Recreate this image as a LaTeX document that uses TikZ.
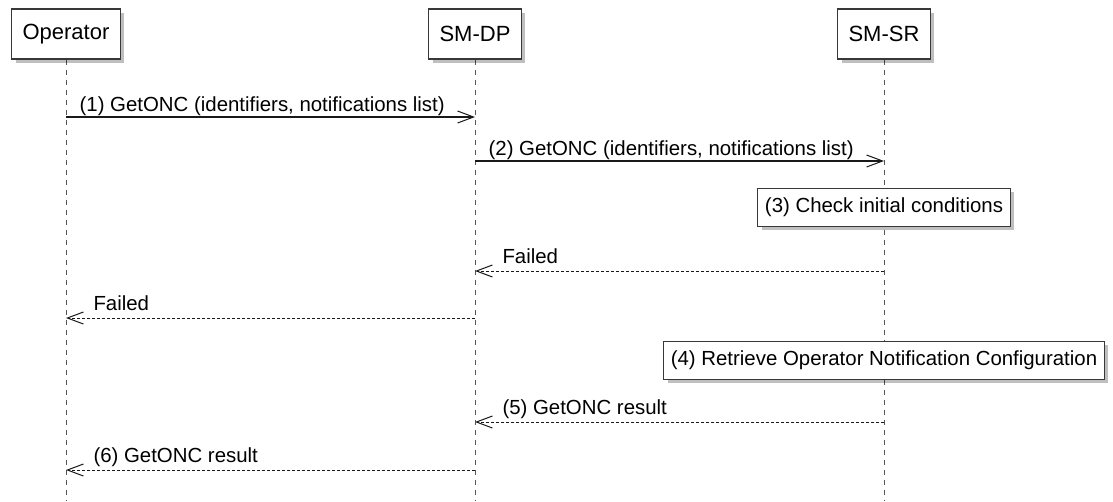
\documentclass[tikz,border=0pt]{standalone}
\usepackage{fontspec}
\setmainfont{Liberation Sans}
\usetikzlibrary{arrows.meta, positioning, shadows, backgrounds}
\definecolor{umlline}{HTML}{383838}
\definecolor{umlgray}{HTML}{555555}

\begin{document}
\begin{tikzpicture}[
    x=1pt, y=-1pt,
    part/.style={rectangle, draw=umlline, fill=white, line width=1.4pt, minimum height=50pt, inner xsep=11pt, font=\fontsize{22}{26}\selectfont, drop shadow={shadow xshift=4pt, shadow yshift=-4pt, fill=black, opacity=0.25}},
    note/.style={rectangle, draw=umlline, fill=white, line width=1pt, minimum height=38pt, inner xsep=7pt, font=\fontsize{20.4}{24}\selectfont, drop shadow={shadow xshift=4pt, shadow yshift=-4pt, fill=black, opacity=0.25}},
    life/.style={draw=umlgray, line width=1pt, dash pattern=on 5pt off 5pt},
    msg/.style={-{Straight Barb[length=16pt, width=12pt, line width=1pt]}, line width=1.3pt, draw=black!90},
    reply/.style={msg, line width=1pt, dash pattern=on 3pt off 2pt},
    lbl/.style={font=\fontsize{20.4}{24}\selectfont, inner sep=0pt, anchor=base west}
]

\useasboundingbox (0,0) rectangle (1113,501);

\node (op) [part] at (66,34) {Operator};
\node (dp) [part, on grid, right=409pt of op] {SM-DP};
\node (sr) [part, on grid, right=409pt of dp] {SM-SR};

% rows of the sequence
\coordinate (m1) at (0,117);
\coordinate (m2) at (0,161);
\coordinate (m3) at (0,207);
\coordinate (f1) at (0,271);
\coordinate (f2) at (0,318);
\coordinate (m4) at (0,360);
\coordinate (m5) at (0,422);
\coordinate (m6) at (0,470);
\coordinate (bot) at (0,501);

\begin{scope}[on background layer]
\foreach \p in {op, dp, sr}
    \draw [life] (\p.south) -- (\p |- bot);
\end{scope}

\draw [msg] (op |- m1) -- node[lbl, pos=0, xshift=13pt, yshift=6pt] {(1) GetONC (identifiers, notifications list)} (dp |- m1);
\draw [msg] (dp |- m2) -- node[lbl, pos=0, xshift=13pt, yshift=6pt] {(2) GetONC (identifiers, notifications list)} (sr |- m2);

\node (chk) [note] at (sr |- m3) {(3) Check initial conditions};

\draw [reply] (sr |- f1) -- node[lbl, pos=1, xshift=27pt, yshift=8pt] {Failed} (dp |- f1);
\draw [reply] (dp |- f2) -- node[lbl, pos=1, xshift=27pt, yshift=8pt] {Failed} (op |- f2);

\node (onc) [note] at (sr |- m4) {(4) Retrieve Operator Notification Configuration};

\draw [reply] (sr |- m5) -- node[lbl, pos=1, xshift=27pt, yshift=8pt] {(5) GetONC result} (dp |- m5);
\draw [reply] (dp |- m6) -- node[lbl, pos=1, xshift=27pt, yshift=8pt] {(6) GetONC result} (op |- m6);

\end{tikzpicture}
\end{document}
